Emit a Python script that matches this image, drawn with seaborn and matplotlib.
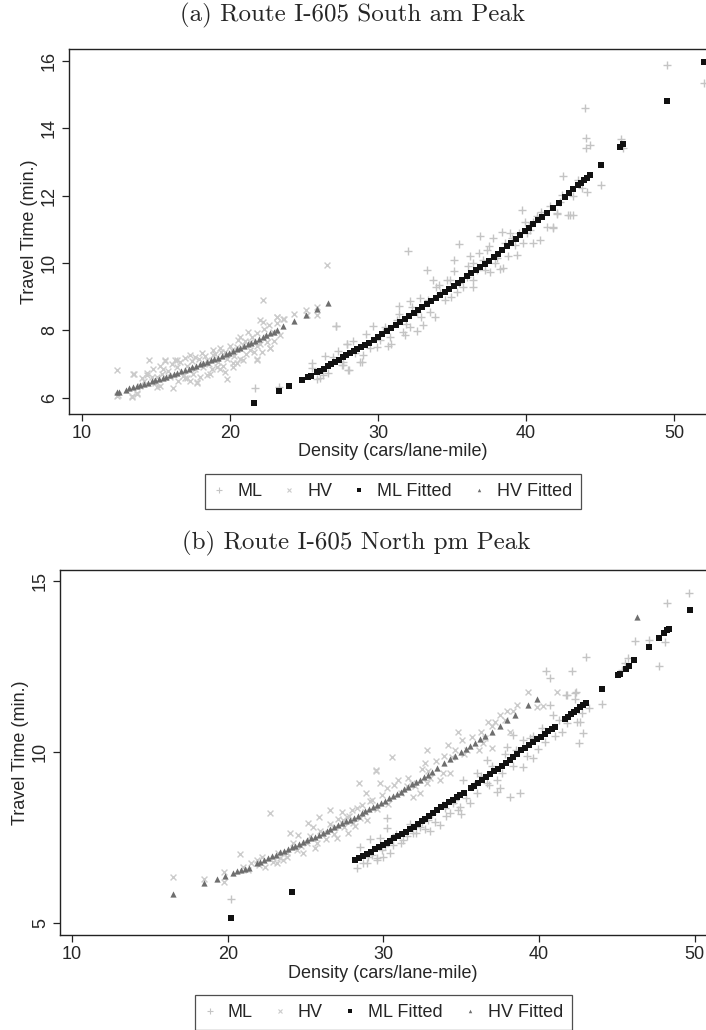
import matplotlib
matplotlib.use("Agg")
import matplotlib.pyplot as plt
from matplotlib.lines import Line2D
import seaborn as sns

sns.set_style("ticks")
plt.rcParams['font.family'] = ['Liberation Sans', 'DejaVu Sans']

# ---------------- Panel (a): Route I-605 South am Peak ----------------
a_ml_x = [39.71, 32.05, 33.29, 35.49, 36.89, 35.14, 33.92, 31.42, 32.16, 32.84, 27.16, 27.88, 28.9, 28.06,
          29.68, 30.81, 31.82, 32.61, 33.85, 34.86, 36.44, 37.34, 37.79, 38.36, 38.92, 39.37, 38.24, 37.57,
          36.44, 35.76, 39.93, 40.72, 41.39, 41.84, 42.07, 42.86, 40.95, 40.5, 40.05, 29.0, 29.46, 30.14,
          31.26, 31.71, 32.61, 34.19, 34.53, 35.32, 35.99, 36.67, 38.02, 38.47, 39.26, 27.66, 26.98, 27.54,
          28.45, 30.36, 32.16, 33.06, 33.51, 34.64, 36.44, 37.23, 39.03, 40.27, 40.5,
          49.5, 52.03, 43.99, 44.03, 44.32, 44.05, 46.4, 46.58, 42.52, 43.49, 45.07, 44.1, 43.76, 43.2, 42.41,
          42.11, 42.97, 43.2, 41.8,
          21.69, 23.33, 25.51, 25.51, 27.13, 28.0, 27.88, 26.08, 26.31, 28.78, 27.66, 26.6, 25.9, 27.3, 26.4,
          28.3, 29.2, 29.9, 30.5, 30.9, 31.4, 31.9, 32.3, 32.9, 33.4, 33.7, 34.1, 34.9, 35.1, 35.5,
          36.1, 36.2, 36.8, 37.1, 37.5, 37.9, 38.6, 38.8, 39.5, 39.8, 40.2, 41.0, 41.6, 42.3, 30.7]
a_ml_y = [11.57, 10.35, 9.79, 10.55, 10.81, 10.09, 9.29, 8.72, 8.88, 8.95, 8.13, 7.61, 7.07, 6.82,
          8.13, 7.81, 7.86, 7.99, 8.40, 9.49, 9.99, 10.38, 10.73, 10.93, 10.90, 10.23, 9.81, 9.74,
          9.49, 9.29, 11.22, 11.39, 11.07, 11.04, 11.47, 11.42, 10.68, 10.58, 10.88, 7.27, 7.47, 7.71,
          8.31, 7.96, 8.55, 9.10, 8.90, 9.15, 9.59, 9.79, 10.14, 9.84, 10.53, 7.07, 7.22, 6.97,
          7.32, 7.96, 8.11, 8.16, 8.55, 9.49, 9.29, 9.79, 10.73, 10.98, 11.22,
          15.88, 15.33, 14.6, 13.71, 13.5, 13.41, 13.68, 13.41, 12.59, 12.46, 12.32, 12.11, 12.24, 11.99, 12.01,
          11.45, 11.43, 11.43, 11.06,
          6.30, 6.33, 7.02, 6.89, 8.13, 6.82, 7.61, 6.58, 6.67, 7.07, 6.97, 6.75, 6.55, 7.4, 7.25,
          7.7, 7.9, 7.5, 8.1, 7.6, 8.5, 8.2, 8.7, 8.4, 8.9, 9.5, 9.35, 9.0, 9.75, 9.4,
          9.9, 10.2, 10.3, 10.1, 10.5, 10.0, 10.6, 10.2, 10.9, 10.6, 11.1, 11.5, 11.7, 11.8, 7.55]

a_hv_x = [12.39, 12.45, 13.36, 13.7, 13.51, 14.55, 14.37, 15.05, 15.61, 15.95, 16.17, 16.39, 16.96, 17.74,
          18.42, 18.87, 19.77, 20.22, 20.68, 21.35, 21.8, 22.25, 22.7, 23.15, 23.64, 24.32, 25.14, 25.86,
          25.86, 26.57, 25.18, 22.03,
          13.47, 14.03, 14.37, 14.7, 15.61, 15.5, 16.28, 16.39, 16.96, 17.3, 17.64, 18.09, 18.42, 18.87,
          19.32, 19.66, 20.11, 20.56, 20.9, 21.35, 21.8, 22.25, 22.47, 22.7, 21.8, 20.9, 19.66, 18.65,
          17.97, 17.3, 17.75, 17.07, 15.27, 15.05, 13.7, 13.36, 12.34, 17.52, 19.1, 20.45, 21.8, 22.14,
          23.15, 23.15, 23.6,
          14.8, 15.3, 15.8, 16.1, 16.6, 16.8, 17.1, 17.4, 17.6, 17.9, 18.2, 18.3, 18.6, 18.8, 19.0,
          19.2, 19.4, 19.5, 19.8, 20.0, 20.3, 20.5, 20.7, 21.0, 21.1, 21.5, 21.6, 22.0, 22.3, 22.5,
          22.9, 23.0, 13.9, 14.2, 14.9, 15.4, 16.5, 19.3, 20.2, 21.2, 22.6, 23.4]
a_hv_y = [6.82, 6.08, 6.03, 6.11, 6.72, 7.12, 6.75, 6.62, 7.09, 6.62, 6.28, 7.12, 6.58, 6.47,
          6.67, 7.42, 6.55, 7.02, 7.81, 7.42, 7.12, 8.90, 7.47, 8.39, 8.33, 8.50, 8.60, 8.70,
          8.47, 9.94, 8.45, 8.31,
          6.70, 6.60, 6.67, 6.62, 7.12, 6.87, 7.12, 6.92, 7.17, 7.27, 7.22, 7.32, 7.12, 7.27,
          7.47, 7.36, 7.42, 7.71, 7.56, 7.66, 7.91, 8.26, 7.81, 7.47, 7.14, 7.12, 6.77, 6.72,
          6.61, 6.51, 6.43, 6.58, 6.35, 6.33, 6.13, 6.06, 6.05, 6.72, 6.92, 7.02, 7.53, 7.36,
          8.21, 8.39, 8.33,
          6.85, 6.95, 6.8, 7.0, 7.05, 6.65, 6.95, 7.1, 6.85, 7.15, 6.9, 7.25, 7.0, 6.85, 7.3,
          7.05, 7.35, 6.95, 7.15, 7.55, 7.25, 7.5, 7.15, 7.7, 7.3, 7.8, 7.35, 7.6, 8.05, 7.65,
          7.95, 7.7, 6.35, 6.5, 6.45, 6.7, 6.5, 6.85, 6.9, 7.95, 8.15, 7.85]

a_mlfit_x = [21.65, 23.33, 23.96, 24.84, 25.3, 25.45, 25.9, 26.1, 26.35, 26.6, 26.85, 27.1, 27.35, 27.6,
             27.85, 28.1, 28.35, 28.6, 28.85, 29.1, 29.4, 29.7, 30.0, 30.3, 30.6, 30.9, 31.2, 31.5, 31.8,
             32.1, 32.4, 32.7, 33.0, 33.3, 33.6, 33.9, 34.2, 34.5, 34.8, 35.1, 35.4, 35.7, 36.0, 36.3,
             36.6, 36.9, 37.2, 37.5, 37.8, 38.1, 38.4, 38.7, 39.0, 39.3, 39.6, 39.9, 40.2, 40.5, 40.8,
             41.1, 41.4, 41.8, 42.2, 42.6, 42.9, 43.2, 43.5, 43.7, 43.9, 44.1, 44.3, 45.07, 46.35, 46.58,
             49.5, 52.03]
a_mlfit_y = [5.86, 6.21, 6.35, 6.53, 6.63, 6.66, 6.76, 6.81, 6.87, 6.94, 7.00, 7.07, 7.13, 7.20,
             7.26, 7.33, 7.39, 7.46, 7.52, 7.58, 7.64, 7.71, 7.80, 7.89, 7.98, 8.07, 8.16, 8.25, 8.34,
             8.43, 8.52, 8.61, 8.70, 8.79, 8.88, 8.97, 9.05, 9.14, 9.23, 9.32, 9.41, 9.51, 9.60, 9.69,
             9.79, 9.88, 9.98, 10.07, 10.17, 10.27, 10.38, 10.49, 10.60, 10.71, 10.82, 10.94, 11.05, 11.16, 11.27,
             11.38, 11.49, 11.63, 11.79, 11.95, 12.07, 12.19, 12.30, 12.38, 12.45, 12.53, 12.61, 12.91, 13.45, 13.53,
             14.8, 15.96]

a_hvfit_x = [12.35, 12.5, 12.95, 13.2, 13.45, 13.7, 13.95, 14.2, 14.45, 14.7, 14.95, 15.2, 15.45, 15.7,
             15.95, 16.2, 16.45, 16.7, 16.95, 17.2, 17.45, 17.7, 17.95, 18.2, 18.45, 18.7, 18.95, 19.2,
             19.45, 19.7, 19.95, 20.2, 20.45, 20.7, 20.95, 21.2, 21.45, 21.7, 21.95, 22.2, 22.45, 22.7,
             22.95, 23.2, 23.6, 24.3, 25.1, 25.85, 26.6]
a_hvfit_y = [6.16, 6.18, 6.24, 6.28, 6.31, 6.35, 6.38, 6.42, 6.45, 6.49, 6.53, 6.56, 6.60, 6.63,
             6.67, 6.71, 6.75, 6.79, 6.83, 6.87, 6.91, 6.95, 6.99, 7.03, 7.07, 7.11, 7.15, 7.19,
             7.24, 7.29, 7.34, 7.39, 7.44, 7.49, 7.54, 7.59, 7.64, 7.69, 7.74, 7.80, 7.85, 7.91,
             7.96, 8.01, 8.13, 8.27, 8.45, 8.65, 8.82]

# ---------------- Panel (b): Route I-605 North pm Peak ----------------
b_ml_x = [20.19, 28.29, 28.5, 29.14, 29.78, 30.25, 30.25, 28.93, 29.57, 30.0,
          29.57, 30.42, 30.42, 31.28, 31.92, 32.35, 32.88, 33.64, 34.28, 34.92, 35.13, 35.56, 35.99, 36.63,
          36.63, 37.28, 37.49, 37.92, 38.35, 38.99, 38.99, 39.63, 39.63, 40.7, 40.87, 41.02, 40.44, 40.7,
          42.09, 41.77, 42.3, 42.62, 42.84, 42.58, 43.01, 38.13, 38.77, 37.28, 34.49, 33.96,
          49.65, 48.19, 46.16, 47.08, 48.09, 47.72, 45.73, 45.52, 45.3, 41.71, 42.35, 42.31, 44.02,
          41.77, 42.41, 42.73,
          28.7, 29.0, 29.3, 29.9, 30.1, 30.6, 30.8, 31.1, 31.5, 31.7, 32.1, 32.5, 32.7, 33.1, 33.3,
          33.8, 34.0, 34.6, 34.8, 35.3, 35.8, 36.0, 36.3, 36.8, 37.0, 37.6, 37.8, 38.3, 38.5, 39.2,
          39.4, 39.9, 40.2, 40.4, 41.3, 41.5, 43.2, 33.0, 35.0]
b_ml_y = [5.7, 6.61, 7.24, 7.46, 7.49, 8.07, 7.78, 6.77, 6.85, 6.95,
          6.9, 7.05, 7.44, 7.44, 7.63, 7.82, 8.02, 7.87, 8.22, 8.41, 9.19, 8.51, 9.39, 9.77,
          9.09, 9.19, 8.95, 10.16, 10.51, 10.36, 9.58, 9.82, 10.46, 11.38, 11.09, 10.46, 12.36, 12.16,
          12.36, 11.68, 11.74, 10.89, 10.56, 10.26, 12.78, 8.7, 8.8, 8.85, 8.51, 8.36,
          14.65, 14.36, 13.26, 13.28, 13.23, 12.53, 12.75, 12.6, 12.41, 11.68, 11.77, 11.56, 11.4,
          10.85, 10.89, 11.14,
          6.75, 6.95, 7.0, 7.15, 7.25, 7.3, 7.6, 7.35, 7.55, 7.9, 7.65, 7.95, 7.75, 8.2, 7.95,
          8.45, 8.15, 8.6, 8.3, 8.65, 9.05, 8.8, 9.3, 9.05, 9.6, 9.4, 9.95, 9.6, 10.05, 9.9,
          10.4, 10.1, 10.7, 10.3, 10.95, 10.6, 11.3, 7.7, 8.2]

b_hv_x = [16.47, 18.48, 19.76, 19.76, 20.79, 21.0, 21.32, 22.72, 22.4, 23.15, 23.57, 24.0, 24.54, 23.79,
          24.86, 25.18, 25.5, 25.72, 25.88, 26.57, 26.89, 27.0, 27.32, 27.75, 27.96, 28.45, 28.5, 28.88,
          29.14, 29.52, 29.78, 30.21, 21.86, 23.36, 24.43, 25.07, 26.14, 27.43, 28.07, 28.93, 28.29, 27.64,
          30.53, 29.52, 30.96, 31.49, 31.92, 32.35, 32.78, 32.67, 32.78, 33.64, 34.28, 34.39, 34.81, 35.03,
          34.17, 36.53, 36.74, 37.17, 37.49, 37.92, 38.56, 39.31, 39.85, 36.95, 35.35, 36.42,
          33.87, 32.86, 31.84, 36.12, 38.15, 40.25, 41.17,
          21.5, 22.0, 22.2, 22.9, 23.2, 23.8, 24.2, 24.7, 25.3, 25.6, 25.9, 26.3, 26.6, 26.8, 27.1,
          27.5, 27.8, 28.2, 28.6, 28.8, 29.3, 29.6, 29.9, 30.3, 30.7, 31.1, 31.6, 32.0, 32.5, 33.0,
          33.4, 33.8, 34.6, 35.2, 35.7, 36.3, 37.0, 37.8, 38.3]
b_hv_y = [6.34, 6.29, 6.5, 6.2, 7.02, 6.66, 6.56, 8.23, 6.66, 6.75, 6.85, 7.63, 7.58, 7.05,
          7.05, 7.94, 7.82, 7.34, 8.1, 8.31, 7.82, 7.49, 8.26, 7.63, 8.31, 9.09, 8.07, 8.8,
          8.56, 9.46, 9.09, 8.95, 6.85, 6.9, 7.14, 7.34, 7.63, 8.02, 7.92, 8.02, 8.36, 8.12,
          9.87, 9.48, 9.19, 9.0, 8.7, 8.8, 9.09, 9.68, 10.07, 9.19, 9.39, 9.87, 10.6, 10.36,
          10.21, 10.41, 10.89, 10.89, 11.09, 11.19, 11.38, 11.77, 11.33, 10.12, 10.07, 10.26,
          9.89, 9.46, 9.11, 10.07, 10.6, 11.35, 11.77,
          6.75, 6.7, 6.95, 6.8, 7.05, 6.95, 7.35, 7.25, 7.55, 7.2, 7.7, 7.45, 7.9, 7.6, 8.05,
          7.8, 8.15, 7.85, 8.45, 8.25, 8.6, 8.35, 8.75, 8.5, 9.05, 8.8, 9.25, 9.0, 9.5, 9.25,
          9.75, 9.4, 10.05, 9.95, 10.45, 10.6, 10.75, 10.95, 11.2]

b_mlfit_x = [20.19, 24.11, 28.18, 28.45, 28.7, 28.95, 29.2, 29.45, 29.7, 29.95, 30.2, 30.45, 30.7, 30.95,
             31.2, 31.45, 31.7, 31.95, 32.2, 32.45, 32.7, 32.95, 33.2, 33.45, 33.7, 33.95, 34.2, 34.45,
             34.7, 34.95, 35.2, 35.6, 35.85, 36.1, 36.35, 36.6, 36.85, 37.1, 37.35, 37.6, 37.85, 38.1,
             38.35, 38.6, 38.85, 39.1, 39.35, 39.6, 39.85, 40.1, 40.35, 40.6, 40.85, 41.02, 41.66, 41.85,
             42.05, 42.25, 42.45, 42.65, 42.85, 43.01, 44.02, 45.09, 45.2, 45.56, 45.77, 46.12, 47.08,
             47.7, 48.04, 48.19, 48.34, 49.69]
b_mlfit_y = [5.15, 5.91, 6.85, 6.91, 6.97, 7.03, 7.09, 7.16, 7.22, 7.28, 7.35, 7.41, 7.48, 7.55,
             7.61, 7.68, 7.75, 7.82, 7.90, 7.98, 8.06, 8.15, 8.23, 8.31, 8.39, 8.46, 8.54, 8.61,
             8.68, 8.75, 8.81, 8.95, 9.02, 9.10, 9.18, 9.26, 9.35, 9.44, 9.52, 9.60, 9.69, 9.78,
             9.87, 9.96, 10.05, 10.13, 10.21, 10.29, 10.37, 10.45, 10.53, 10.61, 10.68, 10.73, 10.96, 11.03,
             11.10, 11.17, 11.24, 11.31, 11.39, 11.45, 11.85, 12.24, 12.29, 12.44, 12.52, 12.68, 13.06,
             13.33, 13.48, 13.56, 13.6, 14.16]

b_hvfit_x = [16.47, 18.48, 19.29, 19.81, 20.36, 20.6, 20.85, 21.1, 21.35, 21.86, 22.1, 22.35, 22.6, 22.85,
             23.1, 23.35, 23.6, 23.85, 24.1, 24.35, 24.6, 24.85, 25.1, 25.35, 25.6, 25.85, 26.1, 26.35,
             26.6, 26.85, 27.1, 27.35, 27.6, 27.85, 28.1, 28.35, 28.6, 28.85, 29.1, 29.35, 29.6, 29.85,
             30.1, 30.35, 30.6, 30.85, 31.1, 31.35, 31.6, 31.85, 32.1, 32.35, 32.6, 32.85, 33.1, 33.42,
             33.9, 34.3, 34.6, 35.0, 35.3, 35.56, 35.88, 36.2, 36.55, 36.95, 37.49, 37.92, 38.45, 39.31,
             39.85, 46.27]
b_hvfit_y = [5.86, 6.17, 6.29, 6.38, 6.48, 6.52, 6.56, 6.60, 6.63, 6.75, 6.80, 6.85, 6.91, 6.96,
             7.01, 7.07, 7.12, 7.17, 7.22, 7.27, 7.33, 7.38, 7.43, 7.48, 7.53, 7.59, 7.64, 7.70,
             7.75, 7.81, 7.86, 7.92, 7.98, 8.03, 8.09, 8.15, 8.21, 8.27, 8.33, 8.40, 8.46, 8.52,
             8.58, 8.65, 8.72, 8.78, 8.85, 8.92, 8.99, 9.06, 9.13, 9.20, 9.27, 9.34, 9.42, 9.53,
             9.67, 9.79, 9.88, 10.0, 10.1, 10.18, 10.26, 10.37, 10.47, 10.60, 10.77, 10.94, 11.09, 11.38,
             11.56, 13.95]

titles = ["(a) Route I-605 South am Peak", "(b) Route I-605 North pm Peak"]
series_labels = ["ML", "HV", "ML Fitted", "HV Fitted"]
xlabel = "Density (cars/lane-mile)"
ylabel = "Travel Time (min.)"

C_ML = "#c4c4c4"
C_HV = "#cbcbcb"
C_MLF = "#111111"
C_HVF = "#6e6e6e"

fig = plt.figure(figsize=(7.06, 10.30), dpi=100)
ax_a = fig.add_axes([69/706, 1-414/1030, 648/706, 365/1030])
ax_b = fig.add_axes([60/706, 1-935/1030, 646/706, 365/1030])

panels = [
    (ax_a, a_ml_x, a_ml_y, a_hv_x, a_hv_y, a_mlfit_x, a_mlfit_y, a_hvfit_x, a_hvfit_y),
    (ax_b, b_ml_x, b_ml_y, b_hv_x, b_hv_y, b_mlfit_x, b_mlfit_y, b_hvfit_x, b_hvfit_y),
]

for ax, mlx, mly, hvx, hvy, mfx, mfy, hfx, hfy in panels:
    sns.scatterplot(x=mlx, y=mly, marker="+", color=C_ML, s=30, linewidth=1.0, ax=ax, zorder=2)
    sns.scatterplot(x=hvx, y=hvy, marker="x", color=C_HV, s=18, linewidth=1.0, ax=ax, zorder=2)
    sns.scatterplot(x=hfx, y=hfy, marker="^", color=C_HVF, s=20, linewidth=0, ax=ax, zorder=3)
    sns.scatterplot(x=mfx, y=mfy, marker="s", color=C_MLF, s=13, linewidth=0, ax=ax, zorder=4)

ax_a.set_xlim(9.12, 52.9)
ax_a.set_ylim(5.52, 16.35)
ax_a.set_xticks([10, 20, 30, 40, 50])
ax_a.set_yticks([6, 8, 10, 12, 14, 16])

ax_b.set_xlim(9.23, 50.72)
ax_b.set_ylim(4.66, 15.32)
ax_b.set_xticks([10, 20, 30, 40, 50])
ax_b.set_yticks([5, 10, 15])

for ax in (ax_a, ax_b):
    ax.spines['right'].set_visible(False)
    for s in ('left', 'bottom', 'top'):
        ax.spines[s].set_linewidth(1.0)
        ax.spines[s].set_color('#222222')
    ax.tick_params(axis='both', direction='out', length=5, width=0.9, color='#222222',
                   labelsize=13, pad=3)
    ax.tick_params(top=False, right=False)
    for lab in ax.get_yticklabels():
        lab.set_rotation(90)
        lab.set_va('center')
    ax.set_xlabel(xlabel, fontsize=13, labelpad=1)
    ax.set_ylabel(ylabel, fontsize=13, labelpad=2)
    ax.grid(False)

fig.text(0.5, 1-15/1030, titles[0], family='cmr10', fontsize=18, ha='center', va='center')
fig.text(0.505, 1-543/1030, titles[1], family='cmr10', fontsize=18, ha='center', va='center')

handles = [
    Line2D([], [], linestyle='', marker='+', color=C_ML, markersize=4, markeredgewidth=0.8),
    Line2D([], [], linestyle='', marker='x', color=C_HV, markersize=3, markeredgewidth=0.8),
    Line2D([], [], linestyle='', marker='s', color=C_MLF, markersize=2.5, markeredgewidth=0),
    Line2D([], [], linestyle='', marker='^', color=C_HVF, markersize=2.5, markeredgewidth=0),
]
for anchor in [(393/706, 1-474/1030), (383.5/706, 1-995/1030)]:
    leg = fig.legend(handles, series_labels, loc='upper center', bbox_to_anchor=anchor,
                     ncol=4, fontsize=13, frameon=True, fancybox=False, edgecolor='#222222',
                     handlelength=0.6, handletextpad=0.7, columnspacing=1.2, borderpad=0.5,
                     borderaxespad=0)
    leg.get_frame().set_linewidth(0.9)

fig.savefig("out.png", dpi=100)
